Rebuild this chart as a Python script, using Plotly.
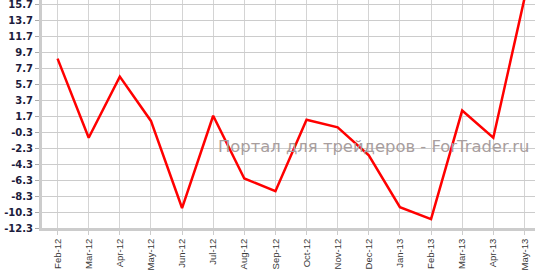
import plotly.graph_objects as go

months = ["Feb-12", "Mar-12", "Apr-12", "May-12", "Jun-12", "Jul-12", "Aug-12", "Sep-12",
          "Oct-12", "Nov-12", "Dec-12", "Jan-13", "Feb-13", "Mar-13", "Apr-13", "May-13"]
values = [8.9, -1.0, 6.65, 1.1, -9.8, 1.75, -6.1, -7.7,
          1.25, 0.3, -3.2, -9.7, -11.2, 2.4, -1.0, 16.4]
y_ticks = [-12.3, -10.3, -8.3, -6.3, -4.3, -2.3, -0.3, 1.7, 3.7, 5.7, 7.7, 9.7, 11.7, 13.7, 15.7]
y_labels = ["-12.3", "-10.3", "-8.3", "-6.3", "-4.3", "-2.3", "-0.3", "1.7", "3.7", "5.7",
            "7.7", "9.7", "11.7", "13.7", "15.7"]
watermark = "Портал для трейдеров - ForTrader.ru"

fig = go.Figure()
fig.add_trace(go.Scatter(
    x=list(range(len(months))), y=values, mode="lines",
    line=dict(color="#ff0000", width=2.5),
    hoverinfo="skip",
))

fig.update_layout(
    width=535, height=272,
    margin=dict(l=42, r=0, t=0, b=44),
    paper_bgcolor="white", plot_bgcolor="white",
    showlegend=False,
)
fig.update_xaxes(
    range=[-0.5, 15.34],
    tickvals=list(range(len(months))), ticktext=months,
    tickangle=-90,
    tickfont=dict(family="Liberation Sans, Arial", size=9.5, color="#3a3a3a"),
    showgrid=True, gridcolor="#d4d4d4", gridwidth=1,
    showline=True, linecolor="#cccccc", linewidth=3,
    ticks="outside", ticklen=4, tickcolor="#cccccc",
    zeroline=False,
)
fig.update_yaxes(
    range=[-12.3, 16.24],
    tickvals=y_ticks, ticktext=y_labels,
    tickfont=dict(family="DejaVu Sans", size=10, color="#1c1c3c", weight="bold"),
    showgrid=True, gridcolor="#cccccc", gridwidth=1,
    showline=True, linecolor="#cccccc", linewidth=3,
    ticks="outside", ticklen=4, tickcolor="#aaaaaa",
    ticklabeloverflow="allow",
    zeroline=False,
)
fig.add_annotation(
    text=watermark, xref="paper", yref="paper",
    x=(373.5 - 42) / 493, y=(228 - 146) / 228,
    xanchor="center", yanchor="middle", showarrow=False,
    font=dict(family="DejaVu Sans", size=16.4, color="#a89e9e"),
)

fig.write_html("out.html")
